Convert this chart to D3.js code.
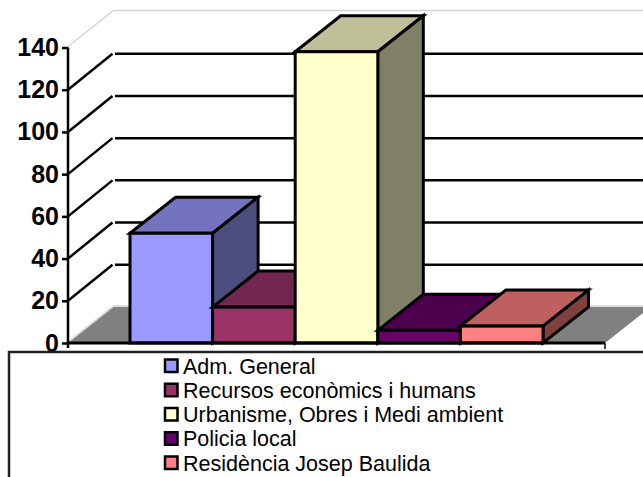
<!DOCTYPE html>
<html>
<head>
<meta charset="utf-8">
<style>
  body { margin: 0; background: #fff; }
  svg { display: block; }
  text { font-family: "Liberation Sans", Arial, sans-serif; fill: #000; }
</style>
<script src="https://d3js.org/d3.v7.min.js"></script>
</head>
<body>
<svg id="chart" width="643" height="477"></svg>
<script>
const categories = ["Adm. General", "Recursos econòmics i humans", "Urbanisme, Obres i Medi ambient", "Policia local", "Residència Josep Baulida"];
const values = [52, 17, 138, 6, 8];
const front = ["#9999FF", "#993366", "#FFFFCC", "#660066", "#FF8080"];
const top_ = ["#7373BF", "#732650", "#BFBF99", "#4D004D", "#BF6060"];
const side = ["#4D4D80", "#4D1A33", "#808066", "#330033", "#804040"];
const yTicks = [0, 20, 40, 60, 80, 100, 120, 140];

const dx = 45.5, dy = -36;
const svg = d3.select("#chart");
const y = d3.scaleLinear().domain([0, 140]).range([343, 47.5]);
const x = d3.scaleBand().domain(categories).range([130, 543]);
const x0 = 68, xEnd = 605, wallX = x0 + dx;

const pts = a => a.map(p => p.join(",")).join(" ");

// floor
svg.append("polygon")
  .attr("points", pts([[x0, y(0)], [wallX, y(0) + dy], [xEnd + dx, y(0) + dy], [xEnd, y(0)]]))
  .attr("fill", "#808080");

// light outline of the walls
const wallEdge = d3.path();
[0, 140].forEach(v => {
  wallEdge.moveTo(x0, y(v) - 1);
  wallEdge.lineTo(wallX, y(v) + dy - 1);
  wallEdge.lineTo(xEnd + dx, y(v) + dy - 1);
});
svg.append("path").attr("d", wallEdge.toString()).attr("fill", "none")
  .attr("stroke", "#d4d4d4").attr("stroke-width", 1.5);

// gridlines, side wall then back wall
yTicks.filter(v => v > 0 && v < 140).forEach(v => {
  svg.append("line").attr("x1", x0).attr("y1", y(v))
    .attr("x2", wallX - 1).attr("y2", y(v) + dy)
    .attr("stroke", "#000").attr("stroke-width", 2.5);
  svg.append("line").attr("x1", wallX + 1.5).attr("y1", y(v) + dy)
    .attr("x2", xEnd + dx).attr("y2", y(v) + dy)
    .attr("stroke", "#000").attr("stroke-width", 2.5);
});

// bars, left to right so each one covers the previous side face
categories.forEach((c, i) => {
  const l = x(c), r = l + x.bandwidth(), t = y(values[i]), b = y(0);
  const g = svg.append("g").attr("stroke", "#000").attr("stroke-width", 3).attr("stroke-linejoin", "miter");
  g.append("polygon").attr("points", pts([[l, t], [l + dx, t + dy], [r + dx, t + dy], [r, t]])).attr("fill", top_[i]);
  g.append("polygon").attr("points", pts([[r, t], [r + dx, t + dy], [r + dx, b + dy], [r, b]])).attr("fill", side[i]);
  g.append("rect").attr("x", l).attr("y", t).attr("width", r - l).attr("height", b - t).attr("fill", front[i]);
});

// axes
const yAxis = d3.axisLeft(y).tickValues(yTicks).tickSize(6).tickPadding(3).tickFormat(d3.format("d"));
const gy = svg.append("g").attr("transform", `translate(${x0},0)`).call(yAxis);
gy.select(".domain").attr("stroke", "#000").attr("stroke-width", 2.5).attr("d", `M0,${y(140)}V${y(0) + 5}`);
gy.selectAll(".tick line").attr("stroke", "#000").attr("stroke-width", 2.5);
gy.selectAll(".tick text").attr("font-size", 25).attr("font-weight", "bold")
  .attr("font-family", '"Liberation Sans", Arial, sans-serif').attr("fill", "#000");

svg.append("line").attr("x1", x0).attr("x2", xEnd).attr("y1", y(0)).attr("y2", y(0))
  .attr("stroke", "#000").attr("stroke-width", 3);
svg.append("line").attr("x1", xEnd).attr("x2", xEnd).attr("y1", y(0)).attr("y2", y(0) + 6)
  .attr("stroke", "#000").attr("stroke-width", 1.5);

// legend box runs off the right and bottom of the picture
svg.append("rect").attr("x", 9).attr("y", 352).attr("width", 700).attr("height", 200)
  .attr("fill", "#fff").attr("stroke", "#222").attr("stroke-width", 2.5);

const legendY = d3.scalePoint().domain(categories).range([366, 463]);
const row = svg.append("g").selectAll("g").data(categories).join("g")
  .attr("transform", d => `translate(165,${legendY(d)})`);
row.append("rect").attr("x", 0).attr("y", -6.5).attr("width", 12.5).attr("height", 12.5)
  .attr("fill", (d, i) => front[i]).attr("stroke", "#000").attr("stroke-width", 2.5);
row.append("text").attr("x", 18).attr("y", 7.5).attr("font-size", 21.5).text(d => d);
</script>
</body>
</html>
